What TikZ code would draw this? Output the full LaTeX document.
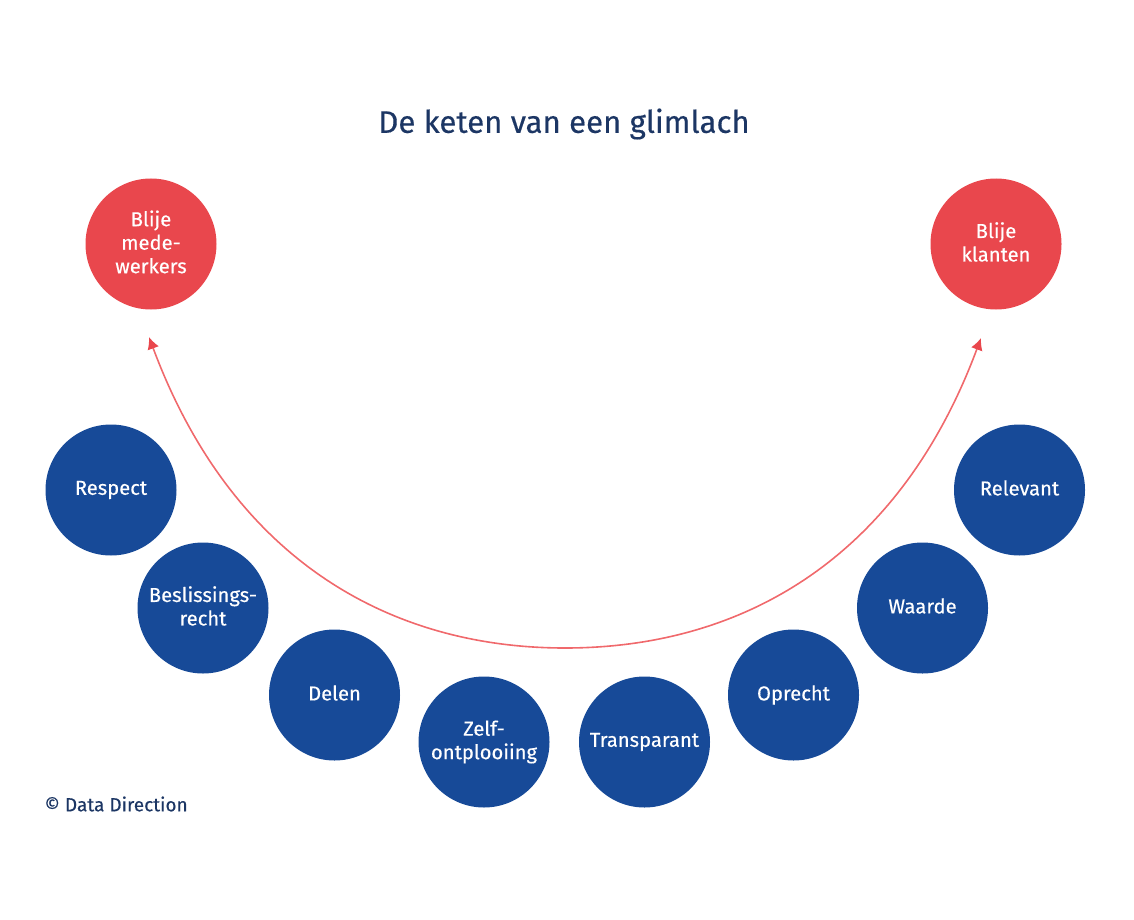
\documentclass[tikz,border=0pt]{standalone}
\usepackage{fontspec}
\setmainfont{Fira Sans}[BoldFont=Fira Sans,BoldFeatures={FakeBold=0.35}]
\usetikzlibrary{arrows.meta}
\definecolor{navy}{HTML}{1C3664}
\definecolor{bluec}{HTML}{174A98}
\definecolor{redc}{HTML}{E9474D}
\definecolor{arcc}{HTML}{F0696C}
\newcommand\St{\vphantom{Ap}}
\tikzset{x=1pt,y=-1pt,
 circ/.style={circle,minimum size=131pt,inner sep=0pt,text=white,align=center,font=\bfseries\fontsize{20.2}{23.5}\selectfont},
 bluecirc/.style={circ,fill=bluec},
 redcirc/.style={circ,fill=redc},
 tips/.style={{Latex[length=12pt,width=12pt,color=redc]}-{Latex[length=12pt,width=12pt,color=redc]}}}
\begin{document}
\begin{tikzpicture}
\useasboundingbox (0,0) rectangle (1134,920);
\node[font=\bfseries\fontsize{31.2}{36}\selectfont,text=navy] (title) at (564,124) {De keten van een glimlach};
\node[redcirc] (bm) at (151,244) {\St Blije\\\St mede-\\\St werkers};
\node[redcirc] (bk) at (996,244) {\St Blije\\\St klanten};
\node[bluecirc] (n1) at (111,490) {\raisebox{-1.6pt}{\St Respect}};
\node[bluecirc] (n2) at (203,608) {\raisebox{-1.6pt}{\St Beslissings-}\\\raisebox{-1.6pt}{\St recht}};
\node[bluecirc] (n3) at (334.5,695) {\raisebox{-1.2pt}{\St Delen}};
\node[bluecirc] (n4) at (484,742) {\raisebox{-1.2pt}{\St Zelf-}\\\raisebox{-1.2pt}{\St ontplooiing}};
\node[bluecirc] (n5) at (644.5,742) {\raisebox{-1.6pt}{\St Transparant}};
\node[bluecirc] (n6) at (793.5,695) {\St Oprecht};
\node[bluecirc] (n7) at (922.5,608) {\raisebox{-1.2pt}{\St Waarde}};
\node[bluecirc] (n8) at (1019.5,490) {\raisebox{-1.2pt}{\St Relevant}};
\node[font=\bfseries\fontsize{19}{22}\selectfont,text=navy,anchor=west] (cr) at (41,804) {© Data Direction};
\coordinate (al) at (149,337);
\coordinate (ar) at (981,338);
\coordinate (am) at (565,648);
\draw[arcc,line width=1.6pt,tips] (al) .. controls (232,560) and (390,648) .. (am) .. controls (740,648) and (898,561) .. (ar);
\end{tikzpicture}
\end{document}
